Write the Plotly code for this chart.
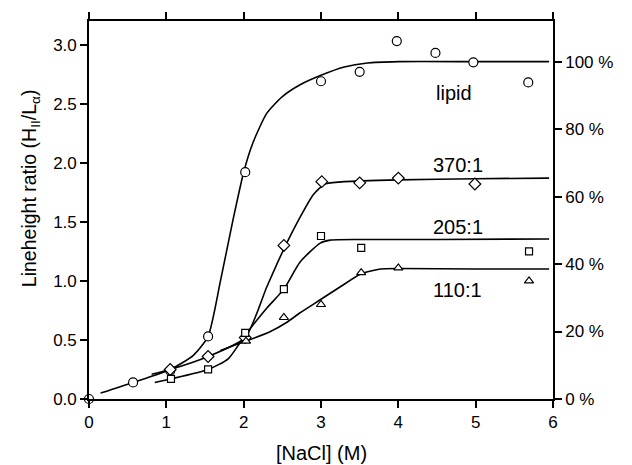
import plotly.graph_objects as go

# Measured points: [NaCl] (M) vs line-height ratio
lipid_x = [0.0, 0.57, 1.05, 1.54, 2.02, 3.0, 3.5, 3.98, 4.48, 4.97, 5.68]
lipid_y = [0.0, 0.14, 0.24, 0.53, 1.92, 2.69, 2.77, 3.03, 2.93, 2.85, 2.68]

r370_x = [1.05, 1.54, 2.02, 2.52, 3.01, 3.5, 4.0, 4.99]
r370_y = [0.25, 0.36, 0.52, 1.30, 1.84, 1.83, 1.87, 1.82]

r205_x = [1.06, 1.54, 2.02, 2.52, 3.0, 3.52, 5.69]
r205_y = [0.17, 0.25, 0.56, 0.93, 1.38, 1.28, 1.25]

r110_x = [2.03, 2.52, 3.0, 3.52, 4.0, 5.69]
r110_y = [0.49, 0.69, 0.80, 1.07, 1.11, 1.00]

# Fitted curves
lipid_fit_x = [0.15, 0.57, 1.05, 1.35, 1.54, 1.7, 1.86, 2.0, 2.12, 2.3, 2.5, 2.73, 3.0, 3.3, 3.6, 4.0, 5.0, 5.95]
lipid_fit_y = [0.05, 0.14, 0.25, 0.37, 0.53, 1.0, 1.51, 1.92, 2.17, 2.42, 2.56, 2.66, 2.74, 2.81, 2.845, 2.856, 2.856, 2.856]

r370_fit_x = [0.81, 1.05, 1.54, 2.02, 2.3, 2.52, 2.73, 2.9, 3.05, 3.3, 4.0, 5.0, 5.95]
r370_fit_y = [0.21, 0.25, 0.36, 0.52, 0.95, 1.27, 1.54, 1.73, 1.82, 1.84, 1.855, 1.865, 1.87]

r205_fit_x = [0.85, 1.06, 1.54, 1.8, 2.02, 2.3, 2.52, 2.73, 2.99, 3.12, 3.5, 4.5, 5.95]
r205_fit_y = [0.14, 0.17, 0.25, 0.34, 0.54, 0.77, 0.93, 1.16, 1.32, 1.345, 1.35, 1.35, 1.355]

r110_fit_x = [1.7, 2.03, 2.34, 2.56, 2.73, 2.99, 3.25, 3.52, 3.77, 4.0, 5.0, 5.95]
r110_fit_y = [0.41, 0.49, 0.57, 0.65, 0.73, 0.84, 0.95, 1.06, 1.10, 1.105, 1.10, 1.10]

x_ticks = [0, 1, 2, 3, 4, 5, 6]
y_ticks = [0.0, 0.5, 1.0, 1.5, 2.0, 2.5, 3.0]
y_tick_text = ["0.0", "0.5", "1.0", "1.5", "2.0", "2.5", "3.0"]
pct_ticks = [0, 20, 40, 60, 80, 100]
pct_text = ["0 %", "20 %", "40 %", "60 %", "80 %", "100 %"]

series_labels = ["lipid", "370:1", "205:1", "110:1"]
label_x = [4.72, 4.77, 4.77, 4.76]
label_y = [2.59, 1.98, 1.46, 0.92]

FONT = "Liberation Sans, Arial, Helvetica, sans-serif"
LW = 1.6

fig = go.Figure()

for fx, fy in [(lipid_fit_x, lipid_fit_y), (r370_fit_x, r370_fit_y),
               (r205_fit_x, r205_fit_y), (r110_fit_x, r110_fit_y)]:
    fig.add_trace(go.Scatter(x=fx, y=fy, mode="lines",
                             line=dict(color="black", width=LW, shape="spline", smoothing=0.6),
                             hoverinfo="skip", showlegend=False))

marker_specs = [
    (lipid_x, lipid_y, "circle", 9),
    (r370_x, r370_y, "diamond", 9),
    (r205_x, r205_y, "square", 7),
    (r110_x, r110_y, "triangle-up", 8),
]
for mx, my, sym, sz in marker_specs:
    fig.add_trace(go.Scatter(x=mx, y=my, mode="markers", cliponaxis=False,
                             marker=dict(symbol=sym, size=sz, color="white",
                                         line=dict(color="black", width=1.2)),
                             showlegend=False))

# dummy trace for right axis
fig.add_trace(go.Scatter(x=[None], y=[None], yaxis="y2", showlegend=False))

for t, lx, ly in zip(series_labels, label_x, label_y):
    fig.add_annotation(x=lx, y=ly, text=t, showarrow=False,
                       font=dict(family=FONT, size=20, color="black"))

# Axis titles as annotations for precise placement
fig.add_annotation(xref="paper", yref="paper", x=-0.127, y=0.558, xanchor="center", yanchor="middle",
                   textangle=-90, showarrow=False,
                   text="Lineheight ratio (H<sub>II</sub>/L<sub>α</sub>)",
                   font=dict(family=FONT, size=19.5, color="black"))
fig.add_annotation(xref="paper", yref="paper", x=0.5, y=-0.143, xanchor="center", yanchor="middle",
                   showarrow=False, text="[NaCl] (M)",
                   font=dict(family=FONT, size=20, color="black"))

axis_common = dict(showgrid=False, zeroline=False, showline=True, linecolor="black",
                   linewidth=1.6, ticks="outside", ticklen=7, tickwidth=1.6, tickcolor="black",
                   tickfont=dict(family=FONT, size=17, color="black"))

fig.update_layout(
    width=632, height=465,
    margin=dict(l=89, r=79, t=21, b=66),
    plot_bgcolor="white", paper_bgcolor="white",
    xaxis=dict(range=[0, 6], tickvals=x_ticks, mirror="ticks", **axis_common),
    yaxis=dict(range=[0, 3.2], tickvals=y_ticks, ticktext=y_tick_text, **axis_common),
    yaxis2=dict(range=[0, 112.05], tickvals=pct_ticks, ticktext=pct_text, overlaying="y",
                side="right", **axis_common),
)

fig.write_html("out.html")
